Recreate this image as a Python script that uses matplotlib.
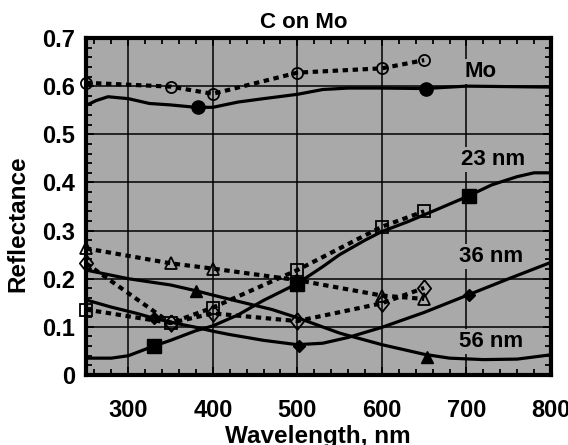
import matplotlib
matplotlib.use("Agg")
import matplotlib.pyplot as plt
from matplotlib.ticker import MultipleLocator

plt.rcParams["font.family"] = ["Liberation Sans", "DejaVu Sans"]
plt.rcParams["font.weight"] = "bold"

# solid curves (smooth model curves)
wl_mo = [250, 262, 276, 300, 325, 350, 380, 400, 430, 460, 500, 530, 560, 600, 650, 700, 750, 800]
r_mo = [0.560, 0.570, 0.578, 0.574, 0.564, 0.561, 0.556, 0.556, 0.567, 0.574, 0.583, 0.593,
        0.596, 0.596, 0.595, 0.600, 0.599, 0.598]
mk_mo_x = [383, 652]
mk_mo_y = [0.556, 0.595]

wl_23 = [250, 280, 300, 315, 330, 350, 380, 400, 430, 460, 500, 530, 550, 580, 600, 630, 660,
         700, 730, 760, 780, 800]
r_23 = [0.035, 0.035, 0.040, 0.050, 0.060, 0.072, 0.092, 0.102, 0.125, 0.155, 0.190, 0.225,
        0.250, 0.280, 0.298, 0.318, 0.340, 0.370, 0.395, 0.412, 0.420, 0.420]
mk_23_x = [330, 500, 703]
mk_23_y = [0.060, 0.190, 0.372]

wl_36 = [250, 300, 350, 380, 400, 430, 470, 500, 550, 600, 650, 680, 720, 760, 800]
r_36 = [0.218, 0.200, 0.187, 0.175, 0.166, 0.153, 0.136, 0.119, 0.087, 0.063, 0.043, 0.035,
        0.032, 0.033, 0.042]
mk_36_x = [380, 653]
mk_36_y = [0.174, 0.038]

wl_56 = [250, 280, 310, 330, 360, 380, 400, 420, 460, 500, 530, 560, 600, 650, 700, 750, 800]
r_56 = [0.156, 0.141, 0.128, 0.118, 0.106, 0.099, 0.091, 0.084, 0.072, 0.063, 0.066, 0.078,
        0.099, 0.130, 0.165, 0.200, 0.234]
mk_56_x = [330, 502, 703]
mk_56_y = [0.118, 0.061, 0.167]

# measured points (dotted)
wl_meas = [250, 350, 400, 500, 600, 650]
meas_mo = [0.607, 0.599, 0.584, 0.628, 0.637, 0.654]
meas_23 = [0.136, 0.108, 0.140, 0.218, 0.308, 0.340]
meas_36 = [0.263, 0.232, 0.221, 0.197, 0.165, 0.158]
meas_56 = [0.232, 0.108, 0.128, 0.112, 0.149, 0.181]

labels = ["Mo", "23 nm", "36 nm", "56 nm"]
label_x = [717, 731, 729, 729]
label_y = [0.618, 0.436, 0.235, 0.058]

W, H = 568, 445
fig = plt.figure(figsize=(W / 100, H / 100), dpi=100)
ax = fig.add_axes([86 / W, 1 - 375 / H, (551 - 86) / W, (375 - 38) / H])
ax.set_facecolor("#a9a9a9")

ax.set_xlim(250, 800)
ax.set_ylim(0, 0.7)
ax.xaxis.set_major_locator(MultipleLocator(100))
ax.xaxis.set_minor_locator(MultipleLocator(20))
ax.yaxis.set_major_locator(MultipleLocator(0.1))
ax.yaxis.set_minor_locator(MultipleLocator(0.02))
ax.grid(True, which="major", color="black", lw=1.1, zorder=1)
ax.set_axisbelow(True)
ax.tick_params(which="both", direction="in", top=True, right=True, color="black")
ax.tick_params(which="major", length=6, width=1.3, labelsize=17)
ax.tick_params(which="minor", length=4, width=1.3)
ax.tick_params(axis="x", pad=17)
ax.tick_params(axis="y", pad=8)
ax.set_yticks([0, 0.1, 0.2, 0.3, 0.4, 0.5, 0.6, 0.7])
ax.set_yticklabels(["0", "0.1", "0.2", "0.3", "0.4", "0.5", "0.6", "0.7"])
for s in ax.spines.values():
    s.set_linewidth(3)

dot = (0, (1.3, 1.1))
diam = [(0, 1), (0.8, 0), (0, -1), (-0.8, 0), (0, 1)]
for vals, m, ms in [(meas_mo, "o", 8), (meas_23, "s", 9), (meas_36, "^", 9), (meas_56, diam, 12)]:
    ax.plot(wl_meas, vals, ls=dot, lw=3, color="black", zorder=3)
    ax.plot(wl_meas, vals, ls="none", marker=m, ms=ms, mfc="none", mec="black",
            mew=1.3, zorder=6, clip_on=False)

for wl, r, mx, my, m, ms in [
    (wl_mo, r_mo, mk_mo_x, mk_mo_y, "o", 9.5),
    (wl_23, r_23, mk_23_x, mk_23_y, "s", 10),
    (wl_36, r_36, mk_36_x, mk_36_y, "^", 9),
    (wl_56, r_56, mk_56_x, mk_56_y, "D", 6.5),
]:
    ax.plot(wl, r, color="black", lw=2.3, zorder=4)
    ax.plot(mx, my, ls="none", marker=m, ms=ms, color="black", zorder=5)

for t, x, y in zip(labels, label_x, label_y):
    ax.text(x, y, t, ha="center", va="baseline", fontsize=16, fontweight="bold",
            bbox=dict(facecolor="#a9a9a9", edgecolor="none", pad=1.5), zorder=7)

fig.text(304 / W, 1 - 28 / H, "C on Mo", ha="center", va="baseline",
         fontsize=16, fontweight="bold")
fig.text(318 / W, 1 - 443 / H, "Wavelength, nm", ha="center", va="baseline",
         fontsize=17.5, fontweight="bold")
fig.text(18 / W, 1 - 224 / H, "Reflectance", ha="center", va="center",
         rotation=90, fontsize=17.5, fontweight="bold")

fig.savefig("out.png", dpi=100)
